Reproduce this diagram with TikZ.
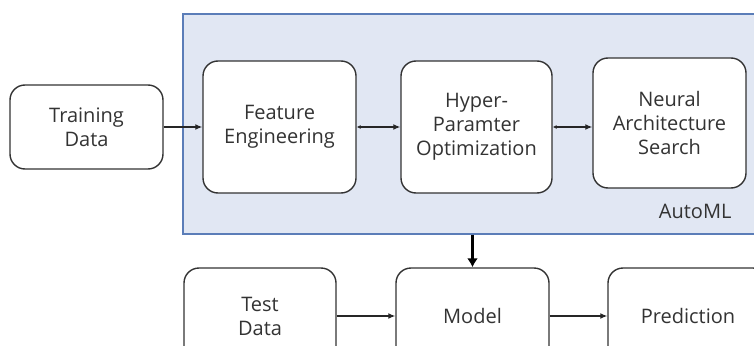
\documentclass[tikz,border=0pt]{standalone}
\usepackage{fontspec}
\setmainfont{Open Sans}
\usetikzlibrary{arrows.meta}
\definecolor{automlfill}{HTML}{E1E7F3}
\definecolor{automlline}{HTML}{5B7DB8}
\definecolor{txt}{HTML}{333333}
\definecolor{boxline}{HTML}{333333}
\begin{document}
\begin{tikzpicture}[x=1pt,y=-1pt,
  box/.style={draw=boxline, line width=1.4pt, fill=white, rounded corners=15pt,
    align=center, text=txt, font=\fontsize{20}{24}\selectfont, inner sep=0pt},
  conn/.style={draw=black!85, line width=1.3pt, -{Latex[length=7pt,width=6pt]}},
  biconn/.style={draw=black!85, line width=1.3pt, {Latex[length=4pt,width=4pt]}-{Latex[length=7pt,width=6pt]}},
  thick arrow/.style={draw=black, line width=2.4pt, -{Latex[length=9pt,width=11pt]}}
]
\useasboundingbox (0,0) rectangle (754,345);
\begin{scope}
\clip (0,0) rectangle (754,345);
% AutoML container
\node[draw=automlline, line width=1.3pt, fill=automlfill, minimum width=577pt, minimum height=220pt, inner sep=0pt]
  (automl) at (471.5,124) {};
\node[anchor=base east, text=txt, font=\fontsize{20}{24}\selectfont] (automllabel) at (735,218) {AutoML};

\node[box, minimum width=153pt, minimum height=84pt] (train) at (86.5,127) {Training\\Data};
\node[box, minimum width=153pt, minimum height=132pt] (fe) at (279.5,127) {Feature\\Engineering};
\node[box, minimum width=151pt, minimum height=132pt] (hpo) at (476.5,127) {Hyper-\\Paramter\\Optimization};
\node[box, minimum width=153pt, minimum height=130pt] (nas) at (669.5,123) {Neural\\Architecture\\Search};

\node[box, minimum width=152pt, minimum height=96pt] (test) at (260,316) {Test\\Data};
\node[box, minimum width=153pt, minimum height=96pt] (model) at (472.5,316) {Model};
\node[box, minimum width=160pt, minimum height=96pt] (pred) at (688,316) {Prediction};

\draw[conn] (train.east) -- (fe.west);
\draw[biconn] (fe.east) -- (hpo.west);
\draw[biconn] (hpo.east) -- (nas.west |- hpo.east);
\draw[thick arrow] (automl.south -| model.north) -- (model.north);
\draw[conn] (test.east) -- (model.west);
\draw[conn] (model.east) -- (pred.west);
\end{scope}
\end{tikzpicture}
\end{document}
